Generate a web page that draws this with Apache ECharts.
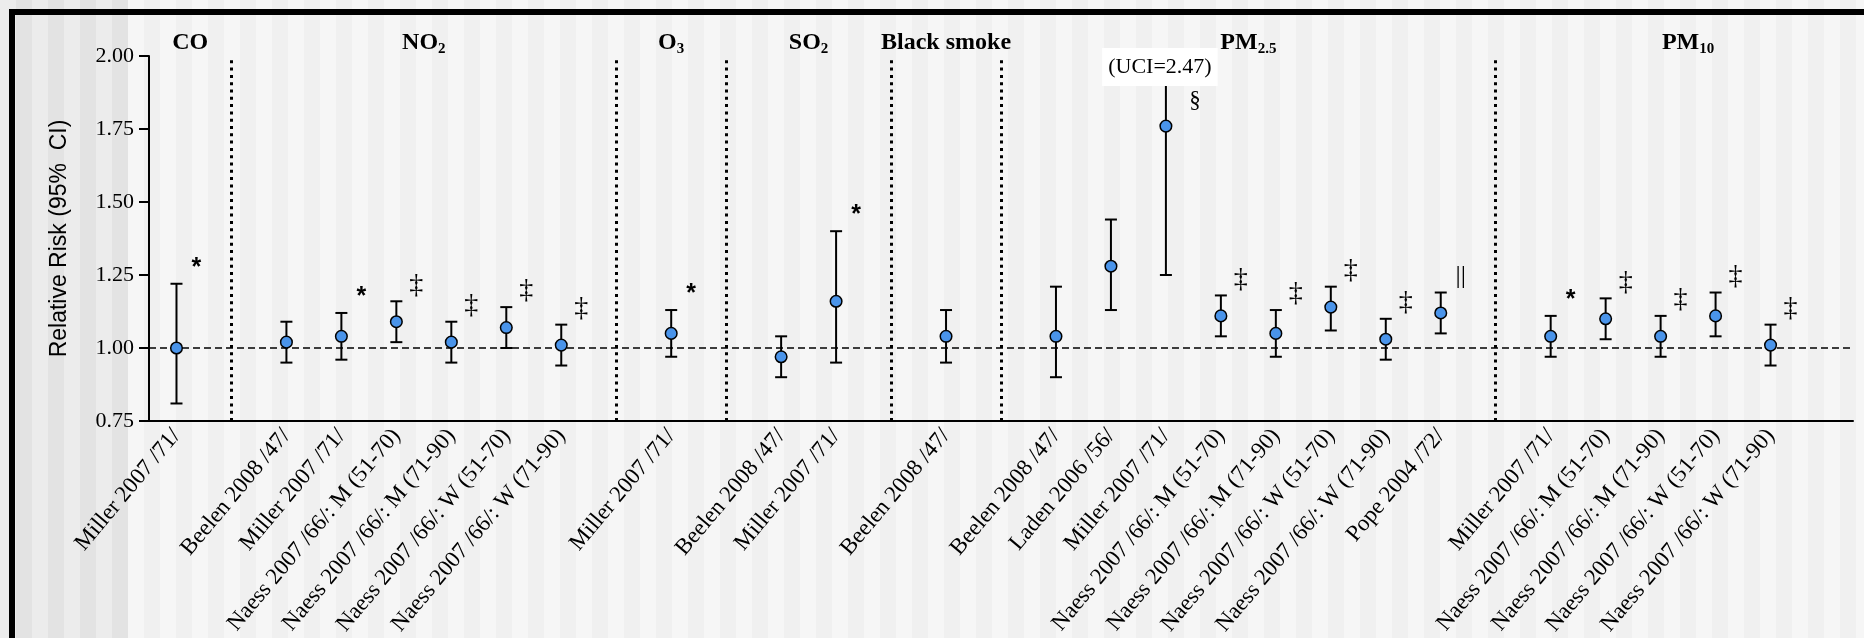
<!DOCTYPE html>
<html>
<head>
<meta charset="utf-8">
<script src="https://cdn.jsdelivr.net/npm/echarts@6/dist/echarts.min.js"></script>
<style>
  html, body { margin: 0; padding: 0; }
  body {
    width: 1864px; height: 638px; overflow: hidden; position: relative;
    background:
      repeating-linear-gradient(90deg, #ececec 0 16px, #e3e3e3 16px 32px) 0 0 / 128px 100% no-repeat,
      repeating-linear-gradient(90deg, #f6f6f6 0 16px, #f0f0f0 16px 32px);
  }
  #frame { position: absolute; left: 9px; top: 9px; width: 1900px; height: 700px;
           border: 6px solid #000; box-sizing: border-box; pointer-events: none; }
  #chart { position: absolute; left: 0; top: 0; width: 1864px; height: 638px; }
</style>
</head>
<body>
<div id="frame"></div>
<div id="chart"></div>
<script>
// studies, in plotting order
var studies = [
	'Miller 2007 /71/',
	'Beelen 2008 /47/', 'Miller 2007 /71/', 'Naess 2007 /66/: M (51-70)', 'Naess 2007 /66/: M (71-90)', 'Naess 2007 /66/: W (51-70)', 'Naess 2007 /66/: W (71-90)',
	'Miller 2007 /71/',
	'Beelen 2008 /47/', 'Miller 2007 /71/',
	'Beelen 2008 /47/',
	'Beelen 2008 /47/', 'Laden 2006 /56/', 'Miller 2007 /71/', 'Naess 2007 /66/: M (51-70)', 'Naess 2007 /66/: M (71-90)', 'Naess 2007 /66/: W (51-70)', 'Naess 2007 /66/: W (71-90)', 'Pope 2004 /72/',
	'Miller 2007 /71/', 'Naess 2007 /66/: M (51-70)', 'Naess 2007 /66/: M (71-90)', 'Naess 2007 /66/: W (51-70)', 'Naess 2007 /66/: W (71-90)'
];
var pollutants = [
	'CO',
	'NO2', 'NO2', 'NO2', 'NO2', 'NO2', 'NO2',
	'O3',
	'SO2', 'SO2',
	'Black smoke',
	'PM2.5', 'PM2.5', 'PM2.5', 'PM2.5', 'PM2.5', 'PM2.5', 'PM2.5', 'PM2.5',
	'PM10', 'PM10', 'PM10', 'PM10', 'PM10'
];
var rr = [1.00, 1.02, 1.04, 1.09, 1.02, 1.07, 1.01, 1.05, 0.97, 1.16, 1.04, 1.04, 1.28, 1.76, 1.11, 1.05, 1.14, 1.03, 1.12, 1.04, 1.10, 1.04, 1.11, 1.01];
var lo = [0.81, 0.95, 0.96, 1.02, 0.95, 1.00, 0.94, 0.97, 0.90, 0.95, 0.95, 0.90, 1.13, 1.25, 1.04, 0.97, 1.06, 0.96, 1.05, 0.97, 1.03, 0.97, 1.04, 0.94];
var hi = [1.22, 1.09, 1.12, 1.16, 1.09, 1.14, 1.08, 1.13, 1.04, 1.40, 1.13, 1.21, 1.44, 2.47, 1.18, 1.13, 1.21, 1.10, 1.19, 1.11, 1.17, 1.11, 1.19, 1.08];
var notes = ['*', '', '*', '‡', '‡', '‡', '‡', '*', '', '*', '', '', '', '§', '‡', '‡', '‡', '‡', '||', '*', '‡', '‡', '‡', '‡'];
var headings = {
	'CO': 'CO', 'NO2': 'NO{s|2}', 'O3': 'O{s|3}', 'SO2': 'SO{s|2}',
	'Black smoke': 'Black smoke', 'PM2.5': 'PM{s|2.5}', 'PM10': 'PM{s|10}'
};
var yTicks = [0.75, 1.00, 1.25, 1.50, 1.75, 2.00];
var refRR = 1.00;

var Y_MAX = yTicks[yTicks.length - 1];

// category slots: blank slot between pollutant groups, plus one at the end
var categories = [], slotOf = [], separators = [], groupList = [];
var prev = null;
for (var i = 0; i < studies.length; i++) {
	if (prev !== null && pollutants[i] !== prev) {
		separators.push(categories.length);
		categories.push('');
	}
	if (pollutants[i] !== prev) groupList.push(pollutants[i]);
	slotOf.push(categories.length);
	categories.push(studies[i]);
	prev = pollutants[i];
}
categories.push('');
var bounds = [-0.5].concat(separators, [categories.length]);
var groupCenter = groupList.map(function(g, k) {
	return (bounds[k] + bounds[k + 1]) / 2;
});

var myChart = echarts.init(document.getElementById('chart'), null, {renderer: 'canvas'});

function noteStyle(t) {
	if (t === '*') return {fontFamily: 'Liberation Sans', fontWeight: 'bold', fontSize: 25};
	if (t === '‡') return {fontFamily: 'Liberation Serif', fontWeight: 'normal', fontSize: 28};
	if (t === '||') return {fontFamily: 'Liberation Serif', fontWeight: 'normal', fontSize: 26};
	return {fontFamily: 'Liberation Serif', fontWeight: 'normal', fontSize: 23};
}

function renderBar(params, api) {
	var i = params.dataIndex;
	var p = api.coord([slotOf[i], rr[i]]);
	var x = p[0];
	var clipped = hi[i] > Y_MAX;
	var yLo = api.coord([slotOf[i], lo[i]])[1];
	var yHi = api.coord([slotOf[i], Math.min(hi[i], Y_MAX)])[1];
	var cap = 6;
	var blk = {stroke: '#000', lineWidth: 2};
	var children = [
		{type: 'line', shape: {x1: x, y1: yLo, x2: x, y2: yHi}, style: blk},
		{type: 'line', shape: {x1: x - cap, y1: yLo, x2: x + cap, y2: yLo}, style: blk}
	];
	if (!clipped) {
		children.push({type: 'line', shape: {x1: x - cap, y1: yHi, x2: x + cap, y2: yHi}, style: blk});
	}
	children.push({
		type: 'circle', shape: {cx: x, cy: p[1], r: 5.8},
		style: {fill: '#4a94ea', stroke: '#000', lineWidth: 1.5}
	});
	if (notes[i]) {
		var ns = noteStyle(notes[i]);
		children.push({
			type: 'text',
			x: x + (clipped ? 29 : 20),
			y: clipped ? p[1] - 25 : yHi - 16,
			style: {
				text: notes[i],
				fontFamily: ns.fontFamily,
				fontWeight: ns.fontWeight,
				fontSize: ns.fontSize,
				fill: '#000',
				align: 'center',
				verticalAlign: 'middle'
			}
		});
	}
	if (clipped) {
		children.push({
			type: 'text',
			x: x - 6,
			y: yHi + 11,
			style: {
				text: '(UCI=' + hi[i].toFixed(2) + ')',
				fontFamily: 'Liberation Serif',
				fontSize: 22,
				fill: '#000',
				backgroundColor: '#fff',
				padding: [8, 6, 8, 6],
				align: 'center',
				verticalAlign: 'middle'
			}
		});
	}
	return {type: 'group', children: children};
}

function renderHeading(params, api) {
	var c = groupCenter[params.dataIndex];
	var f = Math.floor(c);
	var x0 = api.coord([f, Y_MAX])[0];
	var x1 = api.coord([f + 1, Y_MAX])[0];
	var y = api.coord([f, Y_MAX])[1];
	return {
		type: 'text',
		x: x0 + (c - f) * (x1 - x0),
		y: y - 13,
		style: {
			text: headings[groupList[params.dataIndex]],
			fontFamily: 'Liberation Serif',
			fontWeight: 'bold',
			fontSize: 24,
			lineHeight: 27,
			fill: '#000',
			align: 'center',
			verticalAlign: 'middle',
			rich: {
				s: {fontFamily: 'Liberation Serif', fontWeight: 'bold', fontSize: 15, verticalAlign: 'bottom', fill: '#000'}
			}
		}
	};
}

var option = {
	animation: false,
	grid: {
		left: 149,
		right: 11,
		top: 56,
		bottom: 217,
		containLabel: false,
		outerBoundsMode: 'none'
	},
	xAxis: {
		type: 'category',
		data: categories,
		boundaryGap: true,
		axisLine: {lineStyle: {color: '#000', width: 2}},
		axisTick: {
			length: 10,
			alignWithLabel: true,
			interval: function(idx, val) { return val !== ''; },
			lineStyle: {color: '#000', width: 2}
		},
		axisLabel: {
			interval: 0,
			rotate: 50,
			margin: 11,
			color: '#000',
			fontFamily: 'Liberation Serif',
			fontSize: 23
		},
		splitLine: {show: false}
	},
	yAxis: {
		type: 'value',
		min: yTicks[0],
		max: Y_MAX,
		interval: yTicks[1] - yTicks[0],
		name: 'Relative Risk (95%  CI)',
		nameLocation: 'middle',
		nameGap: 78,
		nameTextStyle: {
			color: '#000',
			fontFamily: 'Liberation Sans',
			fontSize: 23
		},
		axisLine: {show: true, lineStyle: {color: '#000', width: 2}},
		axisTick: {show: true, length: 10, lineStyle: {color: '#000', width: 2}},
		axisLabel: {
			margin: 15,
			color: '#000',
			fontFamily: 'Liberation Serif',
			fontSize: 22,
			formatter: function(v) { return v.toFixed(2); }
		},
		splitLine: {show: false}
	},
	series: [{
		type: 'custom',
		name: 'headings',
		z: 3,
		clip: false,
		silent: true,
		renderItem: renderHeading,
		data: groupList.map(function() { return [0, Y_MAX]; }),
		markLine: {
			silent: true,
			symbol: ['none', 'none'],
			z: 4,
			label: {show: false},
			data: [{
				yAxis: refRR,
				lineStyle: {color: '#000', type: [7, 4], width: 1.5}
			}].concat(separators.map(function(s) {
				return {xAxis: s, lineStyle: {color: '#000', type: [3, 4.3], width: 3}};
			}))
		}
	}, {
		type: 'custom',
		name: 'RR',
		z: 10,
		clip: false,
		silent: true,
		renderItem: renderBar,
		data: rr.map(function(v, i) { return [slotOf[i], v]; })
	}]
};

myChart.setOption(option);
</script>
</body>
</html>
